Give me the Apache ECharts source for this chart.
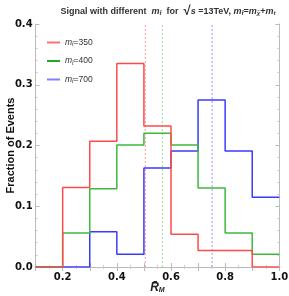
<!DOCTYPE html>
<html><head><meta charset="utf-8">
<script src="https://cdn.jsdelivr.net/npm/echarts@6/dist/echarts.min.js"></script>
<style>html,body{margin:0;padding:0;background:#fff}#c{width:289px;height:296px}</style>
</head><body><div id="c"></div>
<script>
// bin left edges (last entry closes the final bin at 1.0)
const binEdges = [0.1, 0.2, 0.3, 0.4, 0.5, 0.6, 0.7, 0.8, 0.9, 1.0];
const red350   = [0, 0.131, 0.207, 0.335, 0.232, 0.054, 0.027, 0.027, 0];
const green400 = [0, 0.056, 0.129, 0.201, 0.220, 0.201, 0.130, 0.056, 0.021];
const blue700  = [0, 0, 0.058, 0.021, 0.163, 0.191, 0.275, 0.191, 0.115];
const meanLines = [0.505, 0.568, 0.752];
const massLabels = ['350', '400', '700'];
const yTicks = [0, 0.1, 0.2, 0.3, 0.4];
const yRange = [0, 0.4];

function steps(vals){
  const d = vals.map((v,i)=>[binEdges[i], v]);
  d.push([binEdges[binEdges.length-1], vals[vals.length-1]]);
  return d;
}
const colors = ['#ff4a4a', '#3cb83c', '#3a3aff'];
const lineColors = ['#ff9a9a', '#99dd99', '#9a9aff'];
const legendColors = ['#ff7070', '#22aa22', '#8080ff'];
const seriesVals = [red350, green400, blue700];
const names = massLabels.map(m => 'mt' + m);

const chart = echarts.init(document.getElementById('c'));
const richT = {
  n:{fontSize:9, color:'#333', fontFamily:'Liberation Sans'},
  i:{fontSize:9, color:'#333', fontStyle:'italic', fontFamily:'Liberation Sans'},
  s:{fontSize:6, color:'#333', fontStyle:'italic', fontFamily:'Liberation Sans', padding:[4,0,0,0]},
  r:{fontSize:13, color:'#333', fontFamily:'Liberation Sans'}
};
const tickFont = {fontSize:10, fontWeight:'bold', color:'#111', fontFamily:'DejaVu Sans'};
const histSeries = seriesVals.map((vals,i)=>({
  name:names[i], type:'line', step:'end', symbol:'none',
  data:steps(vals),
  lineStyle:{color:colors[i], width:1.5},
  itemStyle:{color:colors[i]},
  z: 3 - i
}));
const meanSeries = meanLines.map((m,i)=>({
  name:'mean'+i, type:'line', symbol:'none', silent:true,
  data:[[m, yRange[0]], [m, yRange[1]]],
  lineStyle:{color:lineColors[i], type:[2,2], width:1},
  z: 1
}));
chart.setOption({
  animation:false,
  title:{
    text:'{n|Signal with different  }{i|m}{s|t̃}{n|  for  }{r|√}{i|s}{n| =13TeV, }{i|m}{s|t̃}{n|=}{i|m}{s|χ̃}{n|+}{i|m}{s|t}',
    left:163, top:0, textAlign:'center',
    textStyle:{rich:richT}
  },
  legend:{
    orient:'vertical', left:42, top:33, itemGap:9, itemWidth:13, itemHeight:2,
    data:names.map((n,i)=>({name:n, icon:'rect', itemStyle:{color:legendColors[i]}})),
    formatter:function(name){ const m = name.slice(2); return '{i|m}{s|t̃}{n|=' + m + '}'; },
    textStyle:{rich:{
      n:{fontSize:8.5, color:'#333', fontFamily:'Liberation Sans'},
      i:{fontSize:8.5, color:'#333', fontStyle:'italic', fontFamily:'Liberation Sans'},
      s:{fontSize:5.5, color:'#333', fontStyle:'italic', fontFamily:'Liberation Sans', padding:[4,0,0,0]}
    }}
  },
  grid:{left:35.6, right:9.7, top:24, bottom:29, containLabel:false, outerBoundsMode:'none'},
  xAxis:[{
    type:'value', min:0.1, max:1.0, interval:0.1,
    name:'{r|R\u0304}{s|M}', nameLocation:'middle', nameGap:15, nameMoveOverlap:false,
    nameTextStyle:{rich:{
      r:{fontSize:12, fontWeight:'bold', fontStyle:'italic', color:'#222', fontFamily:'Liberation Sans'},
      s:{fontSize:7, fontWeight:'bold', fontStyle:'italic', color:'#222', fontFamily:'Liberation Sans', padding:[5,0,0,0]}
    }},
    axisLine:{lineStyle:{color:'#bbb', width:1}},
    axisTick:{inside:true, length:4, lineStyle:{color:'#bbb'}},
    minorTick:{show:true, splitNumber:2, length:2, lineStyle:{color:'#ccc'}},
    splitLine:{show:false},
    axisLabel:Object.assign({margin:5,
      formatter:function(v){ const k = Math.round(v*10); return (k%2===0) ? (k/10).toFixed(1) : ''; }}, tickFont)
  },{
    type:'value', min:0.1, max:1.0, interval:0.1, position:'top',
    axisLine:{show:true, lineStyle:{color:'#bbb'}},
    axisTick:{inside:true, length:4, lineStyle:{color:'#bbb'}},
    minorTick:{show:true, splitNumber:2, length:2, lineStyle:{color:'#ccc'}},
    axisLabel:{show:false}, splitLine:{show:false}
  }],
  yAxis:[{
    type:'value', min:yRange[0], max:yRange[1], interval:0.1,
    name:'Fraction of Events', nameLocation:'middle', nameGap:19, nameMoveOverlap:false,
    nameTextStyle:{fontSize:11, fontWeight:'bold', color:'#111', fontFamily:'Liberation Sans'},
    axisLine:{show:true, lineStyle:{color:'#bbb'}},
    axisTick:{show:true, inside:true, length:4, lineStyle:{color:'#bbb'}},
    minorTick:{show:true, splitNumber:5, length:2, lineStyle:{color:'#ccc'}},
    splitLine:{show:false},
    axisLabel:Object.assign({margin:3,
      formatter:function(v){ return yTicks.some(t=>Math.abs(t-v)<1e-9) ? v.toFixed(1) : ''; }}, tickFont)
  },{
    type:'value', min:yRange[0], max:yRange[1], interval:0.1, position:'right',
    axisLine:{show:true, lineStyle:{color:'#bbb'}},
    axisTick:{show:true, inside:true, length:4, lineStyle:{color:'#bbb'}},
    minorTick:{show:true, splitNumber:5, length:2, lineStyle:{color:'#ccc'}},
    axisLabel:{show:false}, splitLine:{show:false}
  }],
  series: meanSeries.concat(histSeries)
});
</script></body></html>
